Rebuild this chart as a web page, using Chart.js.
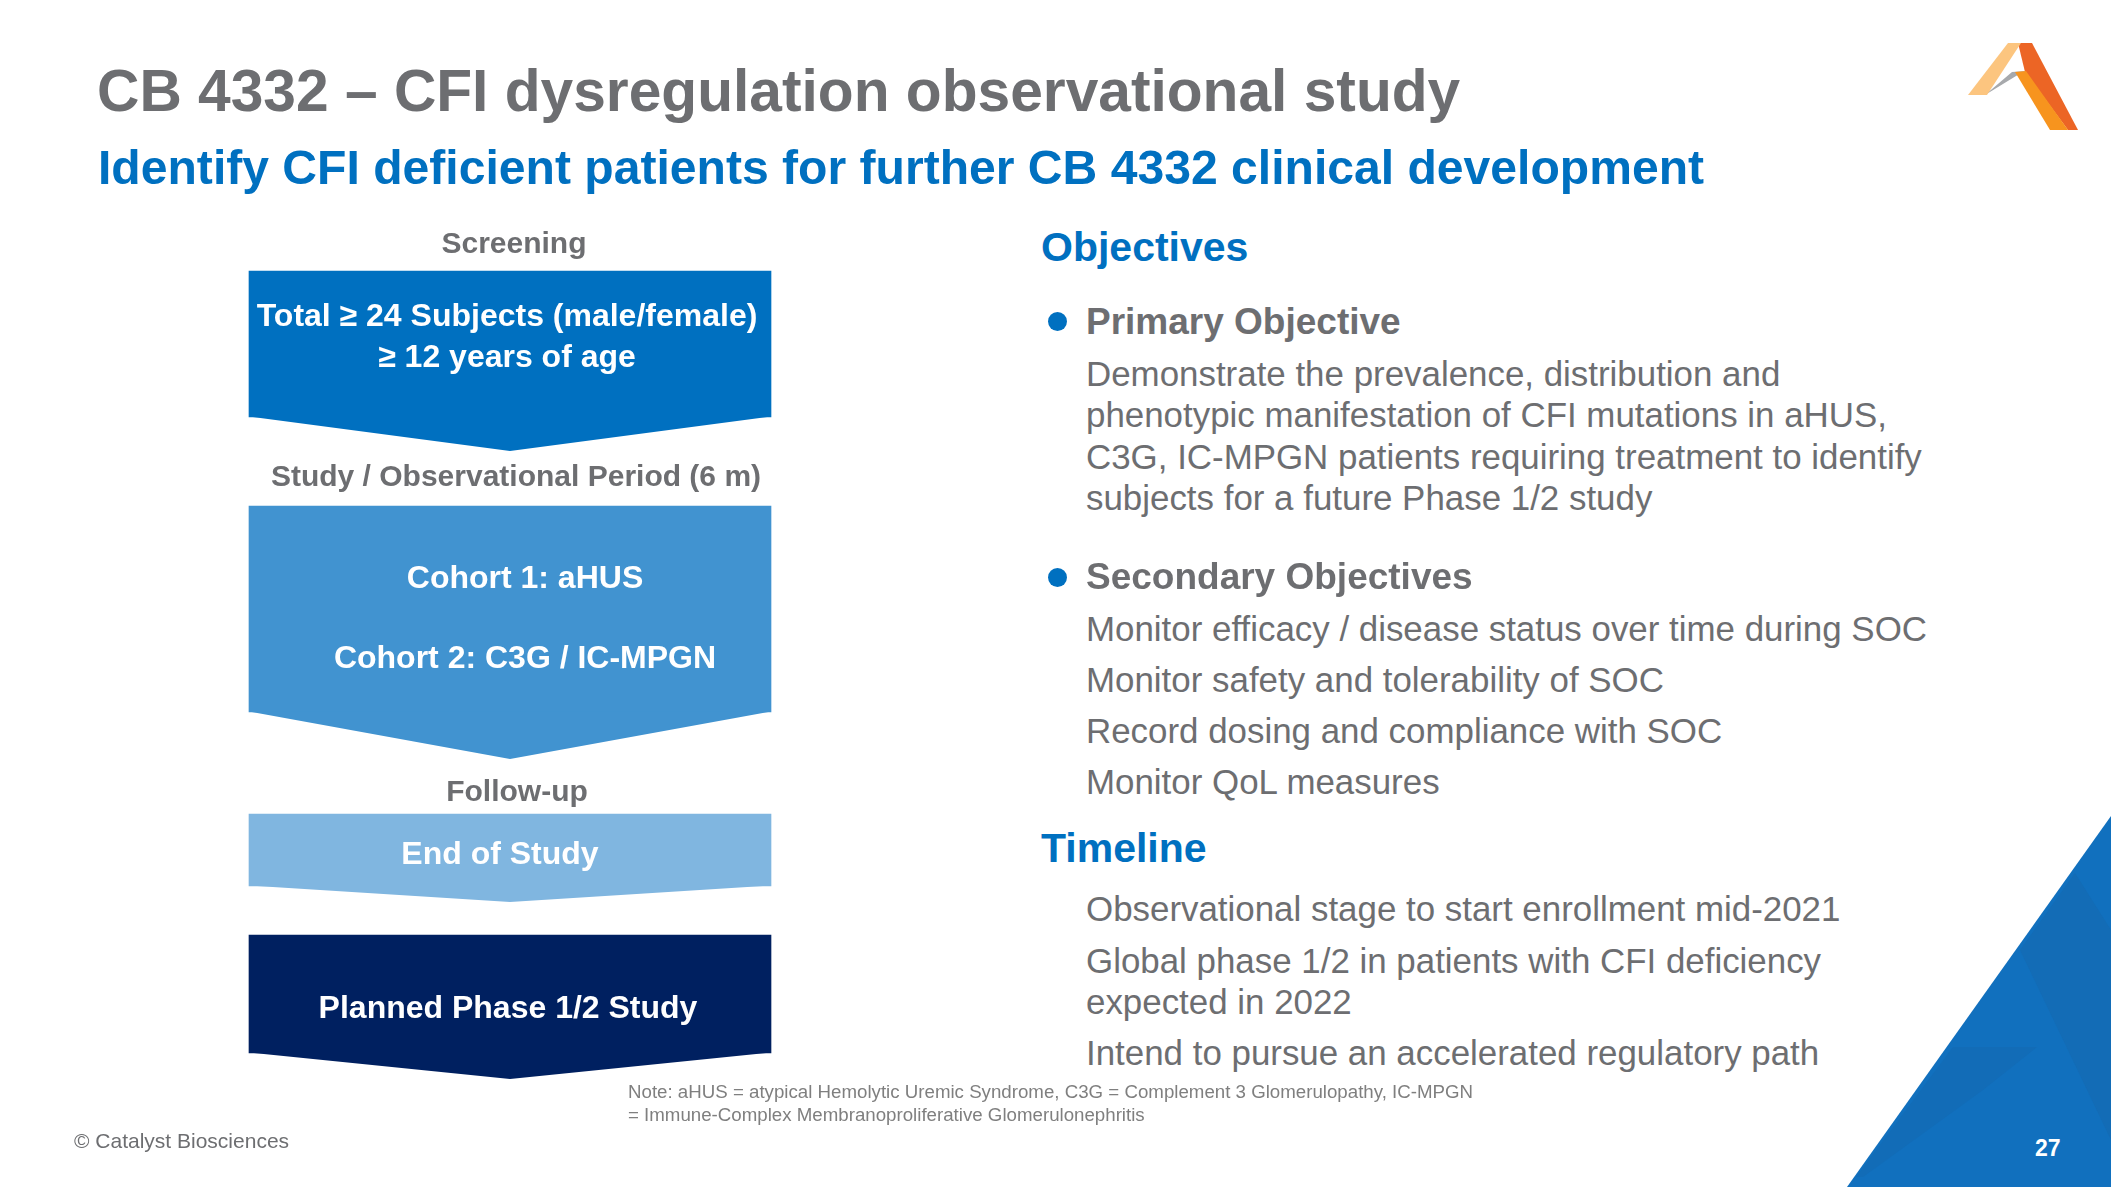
<!DOCTYPE html>
<html>
<head>
<meta charset="utf-8">
<script src="https://cdn.jsdelivr.net/npm/chart.js@4.4.1/dist/chart.umd.min.js"></script>
<style>
html, body { margin: 0; padding: 0; background: #fff; }
#slide { position: relative; width: 2111px; height: 1187px; overflow: hidden;
         font-family: "Liberation Sans", Arial, sans-serif; color: #6d6e71; }
.t { position: absolute; white-space: nowrap; line-height: 1.2; }
.c { text-align: center; width: 600px; }
.b { font-weight: bold; }
.w { color: #fff; }
.blue { color: #0070c0; }
.body { font-size: 34.9px; line-height: 41.3px; }
.dot { position: absolute; width: 19px; height: 19px; border-radius: 50%; background: #0070c0; }
#flow { position: absolute; left: 200px; top: 0; width: 620px; height: 1187px; }
</style>
</head>
<body>
<div id="slide">
  <!-- corner decoration -->
  <svg style="position:absolute;left:1800px;top:780px" width="311" height="407">
    <polygon points="311,36 311,407 47,407" fill="#1170be"/>
    <polygon points="275,93 220,170 311,360 311,150" fill="#1567ad" opacity="0.5"/>
    <polygon points="153,267 237,267 183,310 63,397 56,397" fill="#1567ad" opacity="0.4"/>
  </svg>
  <!-- logo -->
  <svg style="position:absolute;left:1950px;top:30px" width="140" height="110">
    <polygon points="68,13 82,13 128,100 118,100 75,42" fill="#ec6525"/>
    <polygon points="35,65 62,42 76,41 66,46" fill="#a7a9ac"/>
    <polygon points="65,42 76,41 118,100 100,100" fill="#f7941e"/>
    <polygon points="18,65 58,13 71,13 37,65" fill="#fcc57f"/>
  </svg>

  <canvas id="flow" width="620" height="1187"></canvas>

  <div class="t b" style="left:97px;top:56px;font-size:58.7px;">CB 4332 – CFI dysregulation observational study</div>
  <div class="t b blue" style="left:98px;top:139px;font-size:48.1px;">Identify CFI deficient patients for further CB 4332 clinical development</div>

  <!-- flow labels -->
  <div class="t b c" style="left:214px;top:225px;font-size:30px;">Screening</div>
  <div class="t b c w" style="left:207px;top:295px;font-size:32px;line-height:40.5px;">Total ≥ 24 Subjects (male/female)<br>≥ 12 years of age</div>
  <div class="t b c" style="left:216px;top:458px;font-size:30px;">Study / Observational Period (6 m)</div>
  <div class="t b c w" style="left:225px;top:558px;font-size:32px;">Cohort 1: aHUS</div>
  <div class="t b c w" style="left:225px;top:638px;font-size:32px;">Cohort 2: C3G / IC-MPGN</div>
  <div class="t b c" style="left:217px;top:773px;font-size:30px;">Follow-up</div>
  <div class="t b c w" style="left:200px;top:834px;font-size:32px;">End of Study</div>
  <div class="t b c w" style="left:208px;top:988px;font-size:32px;">Planned Phase 1/2 Study</div>

  <!-- objectives -->
  <div class="t b blue" style="left:1041px;top:223px;font-size:41px;">Objectives</div>
  <div class="dot" style="left:1048px;top:312px;"></div>
  <div class="t b" style="left:1086px;top:300px;font-size:37px;">Primary Objective</div>
  <div class="t body" style="left:1086px;top:353px;">Demonstrate the prevalence, distribution and<br>phenotypic manifestation of CFI mutations in aHUS,<br>C3G, IC-MPGN patients requiring treatment to identify<br>subjects for a future Phase 1/2 study</div>
  <div class="dot" style="left:1048px;top:568px;"></div>
  <div class="t b" style="left:1086px;top:555px;font-size:37px;">Secondary Objectives</div>
  <div class="t body" style="left:1086px;top:603px;line-height:51px;">Monitor efficacy / disease status over time during SOC<br>Monitor safety and tolerability of SOC<br>Record dosing and compliance with SOC<br>Monitor QoL measures</div>

  <div class="t b blue" style="left:1041px;top:824px;font-size:41px;">Timeline</div>
  <div class="t body" style="left:1086px;top:888px;">Observational stage to start enrollment mid-2021</div>
  <div class="t body" style="left:1086px;top:940px;">Global phase 1/2 in patients with CFI deficiency<br>expected in 2022</div>
  <div class="t body" style="left:1086px;top:1032px;">Intend to pursue an accelerated regulatory path</div>

  <div class="t" style="left:628px;top:1080px;font-size:18.7px;line-height:23px;color:#7f7f7f;">Note: aHUS = atypical Hemolytic Uremic Syndrome, C3G = Complement 3 Glomerulopathy, IC-MPGN<br>= Immune-Complex Membranoproliferative Glomerulonephritis</div>
  <div class="t" style="left:74px;top:1128px;font-size:21px;">© Catalyst Biosciences</div>
  <div class="t b w" style="left:2035px;top:1135px;font-size:23px;">27</div>
</div>

<script>
// flow stages (top to bottom)
const stageNames = ['Screening', 'Study / Observational Period (6 m)', 'Follow-up', 'Planned Phase 1/2 Study'];
// slide rows covered by each stage box body
const stageSpans = [[271, 417], [506, 712], [814, 886], [935, 1053]];

const stageColors = ['#0070c0', '#4193d0', '#80b6e0', '#002060'];
const tipDepth = [34, 47, 16, 26];

// draws the downward point under each box
const chevronTips = {
    id: 'chevronTips',
    afterDatasetsDraw: function (chart) {
        const ctx = chart.ctx;
        chart.data.datasets.forEach(function (ds, i) {
            const bar = chart.getDatasetMeta(i).data[0];
            const p = bar.getProps(['x', 'y', 'base', 'width'], true);
            const bottom = Math.max(p.y, p.base);
            ctx.save();
            ctx.fillStyle = ds.backgroundColor;
            ctx.beginPath();
            ctx.moveTo(p.x - p.width / 2, bottom - 0.5);
            ctx.lineTo(p.x + p.width / 2, bottom - 0.5);
            ctx.lineTo(p.x, bottom + tipDepth[i]);
            ctx.closePath();
            ctx.fill();
            ctx.restore();
        });
    }
};

new Chart(document.getElementById('flow').getContext('2d'), {
    type: 'bar',
    data: {
        labels: ['flow'],
        datasets: stageSpans.map(function (span, i) {
            return {
                label: stageNames[i],
                data: [span],
                backgroundColor: stageColors[i],
                borderWidth: 0,
                grouped: false,
                barThickness: 522
            };
        })
    },
    options: {
        responsive: false,
        animation: false,
        devicePixelRatio: 1,
        layout: { padding: 0 },
        plugins: { legend: { display: false }, tooltip: { enabled: false } },
        scales: {
            x: { display: false },
            y: { display: false, min: 0, max: 1187, reverse: true }
        }
    },
    plugins: [chevronTips]
});
</script>
</body>
</html>
